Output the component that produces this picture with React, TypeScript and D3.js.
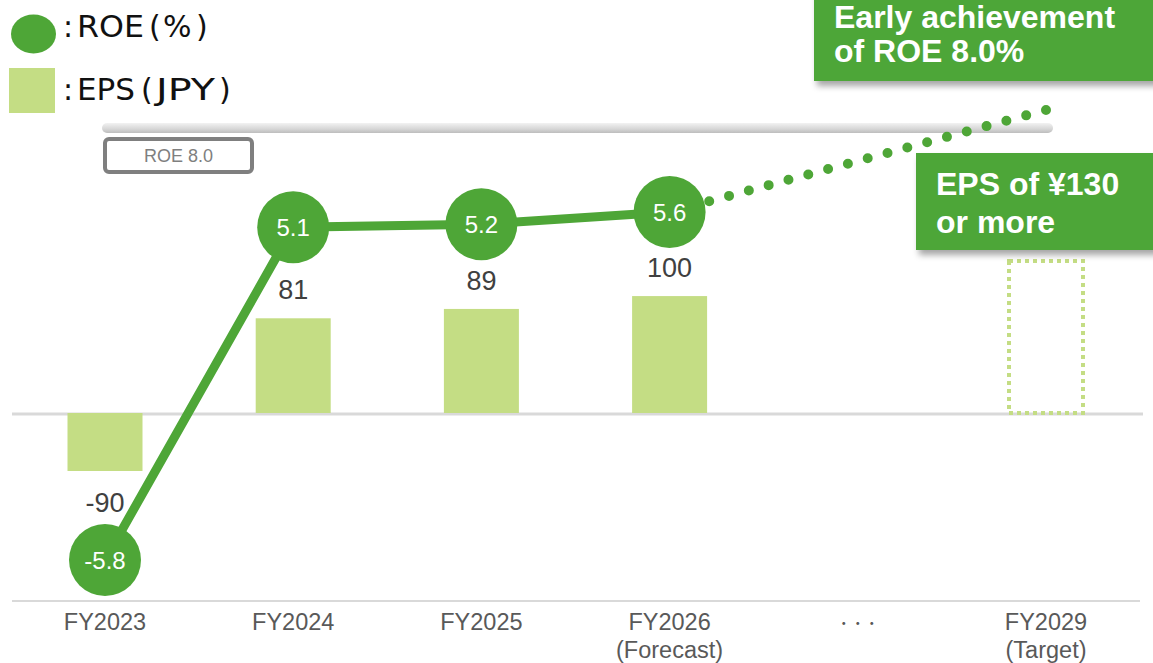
import React from "react";
import * as d3 from "d3";

const categories = ["FY2023", "FY2024", "FY2025", "FY2026", "・・・", "FY2029"];
const subLabels = ["", "", "", "(Forecast)", "", "(Target)"];
const epsCats = ["FY2023", "FY2024", "FY2025", "FY2026"];
const epsValues = [-90, 81, 89, 100];
const roeValues = [-5.8, 5.1, 5.2, 5.6];
const targetCat = "FY2029";
const targetEps = 130;
const targetRoe = 8.0;

const W = 1153;
const H = 663;
const GREEN = "#4ea637";
const LIGHT = "#c4dd84";
const SANS = "'Liberation Sans', Arial, sans-serif";
const JP = "'Noto Sans CJK JP', sans-serif";
const LEG = "'DejaVu Sans', sans-serif";

export default function App() {
  const x = d3.scalePoint<string>().domain(categories).range([105, 1046]);
  const epsY = d3.scaleLinear().domain([-90, 0, 130]).range([471, 413, 261]);
  const roeY = d3.scaleLinear().domain([-5.8, 5.6, 8.0]).range([560, 212, 110]);
  const barW = 75;
  const r = 36;

  const roePts: [number, number][] = epsCats.map((c, i) => [x(c)!, roeY(roeValues[i])]);
  const line = d3.line<[number, number]>();
  const last = roePts[roePts.length - 1];
  const tgt: [number, number] = [x(targetCat)!, roeY(targetRoe)];
  const dLen = Math.hypot(tgt[0] - last[0], tgt[1] - last[1]);
  const nDots = Math.round(dLen / 21);
  const gap = dLen / nDots;

  return (
    <svg width={W} height={H} style={{ position: "absolute", left: 0, top: 0, background: "#fff" }}>
      <defs>
        <linearGradient id="refg" x1="0" y1="0" x2="0" y2="1">
          <stop offset="0" stopColor="#f2f2f2" />
          <stop offset="0.6" stopColor="#d6d6d6" />
          <stop offset="1" stopColor="#bdbdbd" />
        </linearGradient>
        <filter id="shadow" x="-10%" y="-10%" width="130%" height="140%">
          <feDropShadow dx="3" dy="5" stdDeviation="3" floodColor="#000" floodOpacity="0.35" />
        </filter>
      </defs>

      {/* legend */}
      <ellipse cx={33.5} cy={34} rx={22.5} ry={19.5} fill={GREEN} />
      <text y={37} fontFamily={LEG} fontSize={30} fill="#111">
        <tspan x={63}>:</tspan>
        <tspan x={77} textLength={67} lengthAdjust="spacingAndGlyphs">ROE</tspan>
        <tspan x={149}>(</tspan>
        <tspan x={163}>%</tspan>
        <tspan x={196}>)</tspan>
      </text>
      <rect x={9} y={68} width={46} height={45} fill={LIGHT} />
      <text y={100} fontFamily={LEG} fontSize={30} fill="#111">
        <tspan x={63}>:</tspan>
        <tspan x={77} textLength={58} lengthAdjust="spacingAndGlyphs">EPS</tspan>
        <tspan x={141}>(</tspan>
        <tspan x={156} textLength={59} lengthAdjust="spacingAndGlyphs">JPY</tspan>
        <tspan x={219}>)</tspan>
      </text>

      {/* axis lines */}
      <line x1={12} x2={1143} y1={epsY(0) + 1} y2={epsY(0) + 1} stroke="#d9d9d9" strokeWidth={3} />
      <line x1={12} x2={1140} y1={601} y2={601} stroke="#d9d9d9" strokeWidth={2} />

      {/* reference line ROE 8.0 */}
      <rect x={102} y={123} width={951} height={10} rx={5} fill="url(#refg)" />
      <rect x={105} y={139} width={147} height={33} rx={4} fill="#fff" stroke="#7f7f7f" strokeWidth={4} />
      <text x={178.5} y={161.5} textAnchor="middle" fontFamily={SANS} fontSize={18} fill="#7f7f7f">
        ROE 8.0
      </text>

      {/* EPS bars */}
      {epsCats.map((c, i) => {
        const v = epsValues[i];
        const y0 = epsY(0);
        const y1 = epsY(v);
        return (
          <g key={c}>
            <rect x={x(c)! - barW / 2} y={Math.min(y0, y1)} width={barW} height={Math.abs(y1 - y0)} fill={LIGHT} />
            <text
              x={x(c)!}
              y={v >= 0 ? y1 - 19 : y1 + 41}
              textAnchor="middle"
              fontFamily={SANS}
              fontSize={27}
              fill="#404040"
            >
              {v}
            </text>
          </g>
        );
      })}
      <rect
        x={x(targetCat)! - 37}
        y={epsY(targetEps)}
        width={74}
        height={epsY(0) - epsY(targetEps)}
        fill="none"
        stroke={LIGHT}
        strokeWidth={4}
        strokeDasharray="4 4"
      />

      {/* ROE line */}
      <path
        d={line([last, tgt])!}
        fill="none"
        stroke={GREEN}
        strokeWidth={10}
        strokeLinecap="round"
        strokeDasharray={`0 ${gap}`}
      />
      <path d={line(roePts)!} fill="none" stroke={GREEN} strokeWidth={9} />
      {roePts.map(([px, py], i) => (
        <g key={i}>
          <circle cx={px} cy={py} r={r} fill={GREEN} />
          <text x={px} y={py + 9} textAnchor="middle" fontFamily={SANS} fontSize={24} fill="#fff">
            {roeValues[i]}
          </text>
        </g>
      ))}

      {/* x labels */}
      {categories.map((c, i) => (
        <g key={c}>
          {c === "・・・" ? (
            <text x={x(c)!} y={628} textAnchor="middle" fontFamily={JP} fontSize={14} fill="#595959">
              {c}
            </text>
          ) : (
            <text x={x(c)!} y={630} textAnchor="middle" fontFamily={SANS} fontSize={23.5} fill="#595959">
              {c}
            </text>
          )}
          {subLabels[i] && (
            <text x={x(c)!} y={658} textAnchor="middle" fontFamily={SANS} fontSize={23.5} fill="#595959">
              {subLabels[i]}
            </text>
          )}
        </g>
      ))}

      {/* callouts */}
      <g filter="url(#shadow)">
        <rect x={814} y={-10} width={360} height={91} fill={GREEN} />
      </g>
      <text x={834} y={28} fontFamily={SANS} fontWeight="bold" fontSize={32} fill="#fff">
        Early achievement
      </text>
      <text x={834} y={62} fontFamily={SANS} fontWeight="bold" fontSize={32} fill="#fff">
        of ROE 8.0%
      </text>
      <g filter="url(#shadow)">
        <rect x={916} y={153} width={260} height={97} fill={GREEN} />
      </g>
      <text x={936} y={195} fontFamily={SANS} fontWeight="bold" fontSize={32} fill="#fff">
        EPS of ¥130
      </text>
      <text x={936} y={233} fontFamily={SANS} fontWeight="bold" fontSize={32} fill="#fff">
        or more
      </text>
    </svg>
  );
}
